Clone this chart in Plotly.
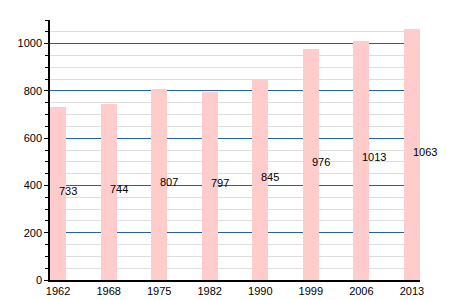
import plotly.graph_objects as go

years = ["1962", "1968", "1975", "1982", "1990", "1999", "2006", "2013"]
population = [733, 744, 807, 797, 845, 976, 1013, 1063]

fig = go.Figure()
fig.add_trace(go.Bar(
    x=years, y=population,
    marker=dict(color="#ffcccc", line=dict(width=0)),
    width=0.32, hoverinfo="skip",
))

for i, v in enumerate(population):
    fig.add_annotation(x=i, y=v / 2 + 12, text=str(v), showarrow=False,
                       xanchor="left", yanchor="middle", xshift=-1,
                       font=dict(size=11, color="#000000"))

fig.update_layout(
    width=450, height=300,
    margin=dict(l=50, r=30, t=20, b=20, autoexpand=False),
    paper_bgcolor="white", plot_bgcolor="white",
    font=dict(family="Liberation Sans, Arial, sans-serif", size=11, color="#000000"),
    showlegend=False, bargap=0,
    xaxis=dict(
        type="category", range=[-0.16, 7.16], automargin=False,
        showline=True, linecolor="#000000", linewidth=1.5,
        ticks="", showgrid=False, tickfont=dict(size=11),
        fixedrange=True,
    ),
    yaxis=dict(
        range=[0, 1100], dtick=200, tick0=0, automargin=False,
        showline=True, linecolor="#000000", linewidth=1.5,
        ticks="outside", ticklen=4, tickcolor="#000000",
        showgrid=True, gridcolor="#1f63a3", gridwidth=1,
        zeroline=False,
        minor=dict(dtick=50, showgrid=True, gridcolor="#dedede", gridwidth=1,
                   ticks="outside", ticklen=3, tickcolor="#000000"),
        tickfont=dict(size=11),
        fixedrange=True,
    ),
)

fig.write_html("out.html")
